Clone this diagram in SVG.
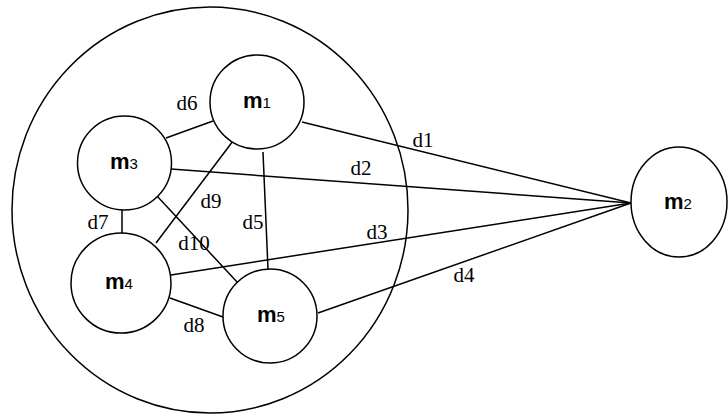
<svg xmlns="http://www.w3.org/2000/svg" width="728" height="415" viewBox="0 0 728 415">
<style>
.node{fill:#fff;stroke:#000;stroke-width:1.5}
.edge{stroke:#000;stroke-width:1.5;fill:none}
.nl{font-family:"Liberation Sans",Arial,sans-serif;font-weight:bold;font-size:22px;text-anchor:middle}
.nl tspan.s{font-size:15px;font-weight:normal}
.el{font-family:"Liberation Serif","Times New Roman",serif;font-size:21px;text-anchor:middle}
</style>
<rect width="728" height="415" fill="#fff"/>
<g id="cluster"><ellipse cx="210" cy="210" rx="198" ry="203" class="node"/></g>
<g id="connectors">
<line class="edge" x1="302" y1="122" x2="631" y2="203"/>
<line class="edge" x1="171" y1="169" x2="631" y2="203"/>
<line class="edge" x1="171" y1="275" x2="631" y2="203"/>
<line class="edge" x1="318" y1="313" x2="631" y2="203"/>
<line class="edge" x1="166" y1="138" x2="213" y2="121"/>
<line class="edge" x1="122" y1="210" x2="122" y2="233"/>
<line class="edge" x1="156" y1="243" x2="233" y2="141"/>
<line class="edge" x1="157" y1="196" x2="238" y2="283"/>
<line class="edge" x1="263" y1="152" x2="268" y2="269"/>
<line class="edge" x1="170" y1="298" x2="223" y2="317"/>
<text class="el" font-family="Liberation Serif, serif" x="423" y="147">d1</text>
<text class="el" font-family="Liberation Serif, serif" x="361" y="175">d2</text>
<text class="el" font-family="Liberation Serif, serif" x="377" y="239">d3</text>
<text class="el" font-family="Liberation Serif, serif" x="464" y="282">d4</text>
<text class="el" font-family="Liberation Serif, serif" x="253" y="229">d5</text>
<text class="el" font-family="Liberation Serif, serif" x="187" y="110">d6</text>
<text class="el" font-family="Liberation Serif, serif" x="98" y="229">d7</text>
<text class="el" font-family="Liberation Serif, serif" x="194" y="332">d8</text>
<text class="el" font-family="Liberation Serif, serif" x="211" y="208">d9</text>
<text class="el" font-family="Liberation Serif, serif" x="194" y="250">d10</text>
</g>
<g id="m1"><circle cx="257" cy="102" r="47" class="node"/><text class="nl" x="257" y="108">m<tspan class="s">1</tspan></text></g>
<g id="m3"><circle cx="124.5" cy="163" r="47" class="node"/><text class="nl" x="124" y="169">m<tspan class="s">3</tspan></text></g>
<g id="m4"><circle cx="121" cy="283" r="50" class="node"/><text class="nl" x="119" y="289">m<tspan class="s">4</tspan></text></g>
<g id="m5"><circle cx="270" cy="316" r="47" class="node"/><text class="nl" x="271" y="322">m<tspan class="s">5</tspan></text></g>
<g id="m2"><ellipse cx="679" cy="202" rx="48" ry="55" class="node"/><text class="nl" x="678" y="209">m<tspan class="s">2</tspan></text></g>
</svg>
